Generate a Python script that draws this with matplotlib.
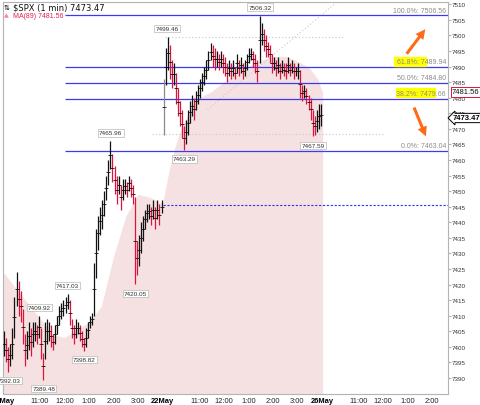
import matplotlib
matplotlib.use('Agg')
import matplotlib.pyplot as plt
from matplotlib.patches import Rectangle, FancyArrowPatch
import numpy as np

plt.rcParams['font.family'] = ['Liberation Sans', 'DejaVu Sans']

# 5-minute bar ranges (21 May and 22 May sessions)
day1_lo = [7397, 7395, 7392.03, 7394, 7396, 7403, 7413, 7410, 7408, 7401, 7394, 7396,
           7399, 7397, 7400, 7402, 7401, 7403, 7396, 7389.48, 7396, 7401, 7402, 7400,
           7399, 7401, 7404, 7407, 7409, 7410, 7411, 7412, 7407, 7403, 7401, 7403,
           7404, 7402, 7400, 7398.82, 7400, 7403, 7406, 7407, 7410, 7422, 7431, 7436,
           7438, 7442, 7447, 7452, 7457, 7453, 7449, 7446, 7449, 7444, 7447, 7449,
           7448, 7450, 7448, 7446, 7420.05, 7423, 7426, 7430, 7434, 7438, 7440, 7441,
           7439, 7441, 7438, 7441, 7439, 7443]
day1_hi = [7405, 7403, 7400, 7401, 7406, 7416, 7424, 7421, 7418, 7412, 7404, 7405,
           7408, 7406, 7408, 7408, 7407, 7409.92, 7406, 7398, 7408, 7409, 7408, 7407,
           7404, 7407, 7410, 7413, 7414, 7415, 7416, 7417.03, 7415, 7409, 7407, 7409,
           7408, 7407, 7405, 7403, 7406, 7408, 7410, 7411, 7427, 7438, 7442, 7445,
           7447, 7450, 7455, 7460, 7465.96, 7462, 7458, 7455, 7455, 7452, 7454, 7454,
           7453, 7455, 7454, 7452, 7448, 7434, 7436, 7440, 7442, 7444, 7446, 7446,
           7445, 7447, 7445, 7447, 7446, 7447]
day2_lo = [7468, 7484, 7489, 7486, 7483, 7484, 7478, 7474, 7471, 7467, 7463.29, 7465,
           7468, 7472, 7474, 7473, 7476, 7478, 7480, 7482, 7484, 7486, 7489, 7492,
           7490, 7489, 7490, 7489, 7490, 7488, 7487, 7485, 7487, 7486, 7487, 7486,
           7488, 7487, 7488, 7486, 7487, 7489, 7491, 7492, 7490, 7488, 7485, 7491,
           7497, 7495, 7493, 7493, 7491, 7488, 7489, 7487, 7488, 7486, 7488, 7487,
           7486, 7488, 7487, 7488, 7486, 7487, 7486, 7480, 7479, 7480, 7478, 7476,
           7473, 7467.59, 7468, 7469, 7470, 7471]
day2_hi = [7486, 7496, 7499.46, 7497, 7492, 7491, 7488, 7483, 7479, 7476, 7471, 7473,
           7476, 7479, 7481, 7480, 7482, 7484, 7486, 7488, 7490, 7492, 7495, 7497.5,
           7497, 7496, 7495, 7494, 7495, 7494, 7493, 7491, 7492, 7491, 7492, 7490,
           7494, 7492, 7493, 7491, 7492, 7494, 7496, 7496, 7495, 7494, 7492, 7506.32,
           7504, 7502, 7500, 7498, 7497, 7494, 7493, 7492, 7493, 7491, 7492, 7491,
           7491, 7493, 7491, 7492, 7491, 7490, 7491, 7489, 7484, 7484, 7483, 7481,
           7480, 7476, 7474, 7476, 7478, 7478]

# MA(89) shaded area (minutes from 21 May open)
ma_minutes = [0, 30, 60, 90, 120, 150, 180, 210, 240, 270, 300, 330, 360, 390, 405,
              420, 435, 450, 465, 480, 510, 540, 570, 600, 630, 660, 690, 720, 750, 770, 782]
ma_values = [7424, 7419, 7414, 7409, 7404, 7403, 7405.5, 7408, 7413, 7429, 7442, 7449,
             7448, 7446, 7456, 7464, 7470, 7474, 7478, 7480, 7482, 7485, 7488, 7490,
             7492, 7493.2, 7493.3, 7491.8, 7489.5, 7486, 7481.6]

prev_close = 7445.5
last_price = 7473.47
ma_last = 7481.56

fib_pct = ['100.0%', '61.8%', '50.0%', '38.2%', '0.0%']
fib_levels = [7506.56, 7489.94, 7484.80, 7479.66, 7463.04]

ext_minutes = [14, 99, 89, 157, 199, 324, 263, 401, 444, 629, 759]
ext_values = [7392.03, 7389.48, 7409.92, 7417.03, 7398.82, 7420.05, 7465.96,
              7499.46, 7463.29, 7506.32, 7467.59]
ext_kind = ['lo', 'lo', 'hi', 'hi', 'lo', 'lo', 'hi', 'hi', 'lo', 'hi', 'lo']

tick_minutes = [0, 90, 150, 210, 270, 330, 390, 480, 540, 600, 660, 720, 780,
                870, 930, 990, 1050]
tick_labels = ['21May', '11:00', '12:00', '1:00', '2:00', '3:00', '22May', '11:00',
               '12:00', '1:00', '2:00', '3:00', '26May', '11:00', '12:00', '1:00', '2:00']

W, H = 480, 406
fig = plt.figure(figsize=(W / 100, H / 100), dpi=100)
ax = fig.add_axes([3 / W, 11 / H, 445 / W, 392 / H])
ymin, ymax = 7384.86, 7510.74
ax.set_xlim(-0.6, 1089)
ax.set_ylim(ymin, ymax)


def fpx(x, y):
    # pixel position (from top-left) -> figure fraction
    return (x / W, 1 - y / H)


# moving average area
ax.fill_between(ma_minutes, ymin, ma_values, color='#f6e1e2', lw=0, zorder=1)

# price bars
lo = np.array(day1_lo + day2_lo)
hi = np.array(day1_hi + day2_hi)
mins = np.arange(len(lo)) * 5 + 2.5
mid = (lo + hi) / 2
up = np.r_[True, mid[1:] >= mid[:-1]]
colors = np.where(up, '#111111', '#dc143c').astype(object)
colors[78] = '#8a8a8a'
ax.vlines(mins, lo, hi, colors=list(colors), lw=0.9, zorder=4)
ax.plot(mins, mid, ls='none', marker='_', ms=2.5, mew=0.6, color='#111111', zorder=4)

# previous close
ax.hlines(prev_close, 390, 1089, colors='#3030f0', lw=0.8, linestyles=(0, (2, 1.5)), zorder=3)

# fibonacci retracement
ax.hlines(fib_levels, 151, 1089, colors='#3a3af0', lw=0.9, zorder=3)
ax.plot([500, 815], [7476.2, 7510.5], color='#c8c8c8', lw=0.8, ls=(0, (1, 2)), zorder=2)
ax.hlines(7499.46, 396, 837, colors='#c8c8c8', lw=0.8, linestyles=(0, (1, 2)), zorder=2)
ax.hlines(7468.3, 364, 930, colors='#c8c8c8', lw=0.8, linestyles=(0, (1, 2)), zorder=2)

# highlighter marks behind two fib labels
for (x0, y0, x1, y1) in [(394, 58, 426, 67), (396, 89, 435, 98)]:
    ax.add_patch(Rectangle(fpx(x0, y1), (x1 - x0) / W, (y1 - y0) / H,
                           transform=fig.transFigure, color='#ffff00', zorder=5,
                           clip_on=False))

for pct, lev in zip(fib_pct, fib_levels):
    ax.annotate(f'{pct}: {lev:.2f}', xy=(1, lev), xycoords=('axes fraction', 'data'),
                xytext=(-2, 1.5), textcoords='offset pixels', ha='right', va='bottom',
                fontsize=5, color='#8c8c8c', zorder=6)

# high / low labels
for m, v, k in zip(ext_minutes, ext_values, ext_kind):
    dy = 8.5 if k == 'hi' else -9
    ax.annotate(f'{v:.2f}', xy=(m, v), xytext=(0, dy), textcoords='offset pixels',
                ha='center', va='center', fontsize=4.6, color='#333333', zorder=7,
                bbox=dict(boxstyle='square,pad=0.2', fc='white', ec='#b8b8b8', lw=0.5))

# orange arrows
for (x0, y0, x1, y1) in [(405, 57, 427, 28), (413, 106, 427, 140)]:
    fig.patches.append(FancyArrowPatch(fpx(x0, y0), fpx(x1, y1), transform=fig.transFigure,
                                       arrowstyle='simple,head_width=7,head_length=7,tail_width=2.2',
                                       color='#ff6a1a', lw=0, zorder=8))

# axes styling
for s in ax.spines.values():
    s.set_color('#b4b4b4')
    s.set_linewidth(0.8)
ax.yaxis.tick_right()
ax.set_yticks(np.arange(7390, 7511, 5))
ax.tick_params(axis='y', labelsize=4.5, length=2, pad=1, colors='#b4b4b4', labelcolor='#333333')
ax.set_xticks(tick_minutes)
ax.set_xticklabels(tick_labels)
ax.tick_params(axis='x', labelsize=5.4, length=0, pad=2.5, labelcolor='#222222')
for lab in ax.get_xticklabels():
    if 'May' in lab.get_text():
        lab.set_fontweight('bold')
        lab.set_color('#000000')

# right-side price flags
fig.text(*fpx(452, 93), f'{ma_last:.2f}', fontsize=5.5, va='center', ha='left', color='#111111',
         bbox=dict(boxstyle='square,pad=0.15', fc='white', ec='#dc143c', lw=0.7), zorder=9)
fig.text(*fpx(453, 119), f'{last_price:.2f}', fontsize=5.5, fontweight='bold', va='center',
         ha='left', color='#000000',
         bbox=dict(boxstyle='larrow,pad=0.15', fc='white', ec='#000000', lw=0.7), zorder=9)

# title lines
fig.text(*fpx(4, 7.5), '⇅', fontsize=5, va='center', ha='left', family='DejaVu Sans')
fig.text(*fpx(13, 7.5), f'$SPX (1 min) {last_price:.2f}', fontsize=6, va='center',
         ha='left', family='DejaVu Sans', color='#111111')
fig.text(*fpx(4, 16), '▲', fontsize=4.5, va='center', ha='left', color='#f08aa0',
         family='DejaVu Sans')
fig.text(*fpx(13, 16), f'MA(89) {ma_last:.2f}', fontsize=5, va='center', ha='left',
         color='#e0204f')

fig.savefig('out.png', dpi=100)
